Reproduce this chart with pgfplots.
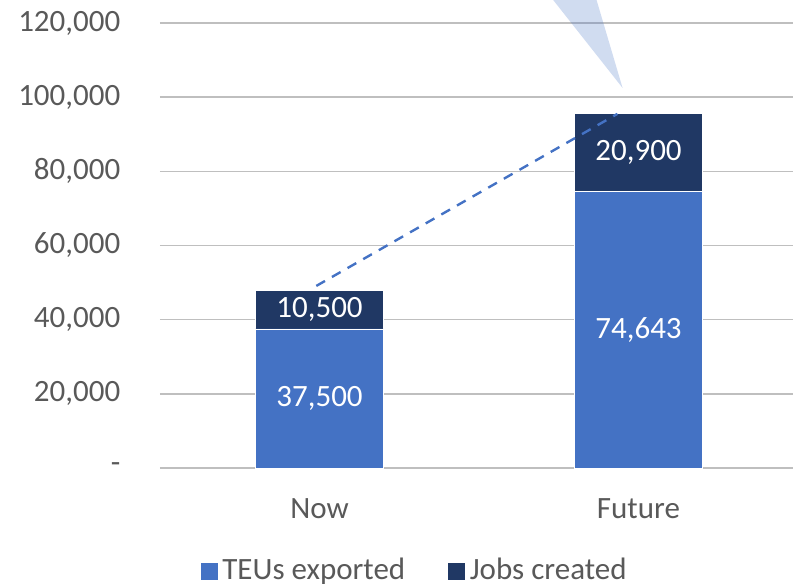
\documentclass[border=0pt]{standalone}
\usepackage{pgfplots}
\pgfplotsset{compat=1.18}
\usepackage{fontspec}
\setmainfont{Carlito}
\definecolor{teu}{HTML}{4472C4}
\definecolor{jobs}{HTML}{203864}
\definecolor{grid}{HTML}{D9D9D9}
\definecolor{txt}{HTML}{595959}
\begin{document}
\fontsize{15.5pt}{18pt}\selectfont
\begin{tikzpicture}
\useasboundingbox (0,0) rectangle (396.5pt,293pt);
\begin{axis}[
  at={(80pt,59pt)}, anchor=south west,
  scale only axis, width=319pt, height=222.5pt,
  ybar stacked, bar width=64pt,
  xmin=-0.5, xmax=1.5, ymin=0, ymax=120000,
  axis line style={draw=none},
  scaled y ticks=false,
  xmajorgrids=false, ymajorgrids=true, grid style={grid, line width=0.8pt},
  ytick={0,20000,40000,60000,80000,100000,120000},
  yticklabels={{-\hspace{7pt}},{20,000},{40,000},{60,000},{80,000},{100,000},{120,000}},
  xtick={0,1}, xticklabels={Now,Future},
  tick style={draw=none},
  /pgf/number format/assume math mode=true,
  ticklabel style={font=\fontsize{15.5pt}{18pt}\selectfont, text=txt},
  yticklabel style={xshift=-14.5pt},
  xticklabel style={yshift=-10pt},
  legend style={at={(0.40,-0.231)}, anchor=center, draw=none, fill=none,
    legend columns=2, font=\fontsize{15.5pt}{18pt}\selectfont, text=txt,
    /tikz/every even column/.append style={column sep=19pt}},
  legend image code/.code={\fill[#1] (0pt,-4.5pt) rectangle (9pt,4.5pt);},
]
\addplot[fill=teu, draw=white, line width=0.3pt] coordinates {(0,37500) (1,74643)};
\addplot[fill=jobs, draw=white, line width=0.3pt] coordinates {(0,10500) (1,20900)};
\legend{TEUs exported, Jobs created}
\end{axis}
\begin{axis}[
  at={(80pt,59pt)}, anchor=south west,
  scale only axis, width=319pt, height=222.5pt,
  xmin=-0.5, xmax=1.5, ymin=0, ymax=120000,
  hide axis, clip=false,
]
\addplot[fill=teu, fill opacity=0.25, draw=none] coordinates {(0.683,131600) (0.850,131600) (0.950,102500)} -- cycle;
\addplot[teu, line width=1.2pt, dash pattern=on 5pt off 4pt] coordinates {(-0.01,49100) (0.934,95500)};
\addplot[only marks, mark=none, nodes near coords, point meta=explicit symbolic,
  every node near coord/.style={anchor=center, text=white, font=\fontsize{15.5pt}{18pt}\selectfont}]
  coordinates {(0,18750)[37,500] (0,42750)[10,500] (1,37321.5)[74,643] (1,85093)[20,900]};
\end{axis}
\end{tikzpicture}
\end{document}
